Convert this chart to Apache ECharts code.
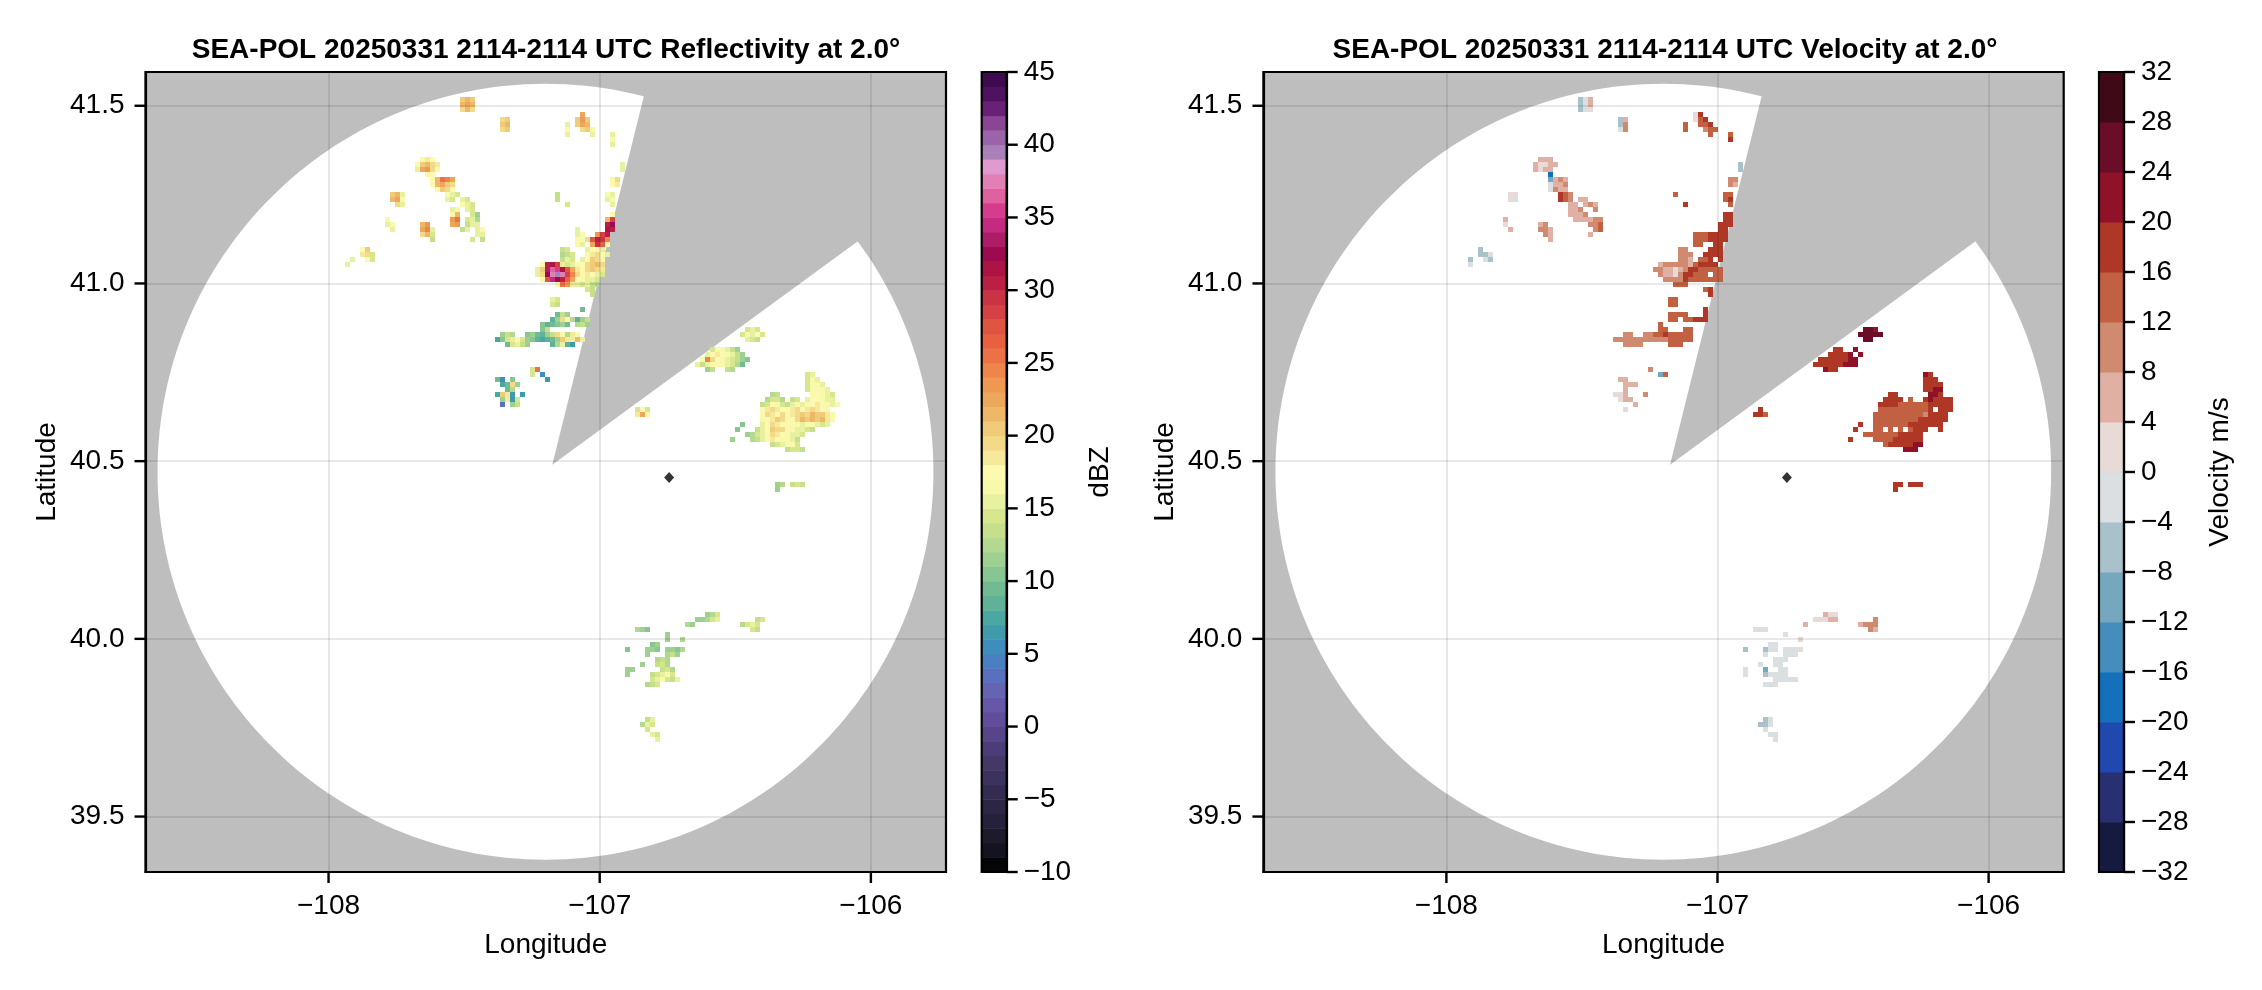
<!DOCTYPE html>
<html><head><meta charset="utf-8">
<style>html,body{margin:0;padding:0;background:#fff}#c{width:2262px;height:990px}</style>
<script src="https://cdn.jsdelivr.net/npm/echarts@6/dist/echarts.min.js"></script>
</head><body><div id="c"></div>
<script>
// ---------- axis ranges and ticks ----------
const lonRange = [-108.675, -105.723];
const latRange = [39.344, 41.595];
const lonTicks = [-108, -107, -106];
const latTicks = [39.5, 40.0, 40.5, 41.0, 41.5];
const dbzTicks = [-10,-5,0,5,10,15,20,25,30,35,40,45];
const velTicks = [-32,-28,-24,-20,-16,-12,-8,-4,0,4,8,12,16,20,24,28,32];
const titles = ['SEA-POL 20250331 2114-2114 UTC Reflectivity at 2.0°','SEA-POL 20250331 2114-2114 UTC Velocity at 2.0°'];
// ---------- radar geometry ----------
const radarMarker = [-106.744, 40.454];
const discCenter = [-107.2, 40.47];
const discRadius = [1.4307, 1.0917];
const blockedSector = [[-107.175,40.49],[-106.815,41.595],[-105.723,41.595],[-105.723,41.3]];
// ---------- colour scales, low to high ----------
const dbzColors = ['#050508','#141320','#1d1a2c','#25213a','#2c2644','#332b50','#3c325e','#453868','#4c3d78','#584488','#624c9c','#6757a8','#6564b3','#5870be','#4a7fc1','#3e8dbb','#3f9aac','#4ba8a0','#5fb198','#70bb91','#87c691','#9dd091','#b3d890','#c6df8a','#d7e78e','#e7f1a0','#f8f9ab','#fdfab0','#f6e99b','#f3da88','#f0cb7a','#eeb866','#eca75c','#ee9852','#ef854b','#ec7245','#e8603f','#e05442','#d54145','#c93344','#bb2044','#ae1345','#9e0a50','#ad1c66','#c62a80','#d63b8c','#e0619f','#e27fb5','#df9bcf','#aa80b8','#9b64a8','#8a4595','#6b2078','#4f1260','#3f0a50'];
const velColors = ['#171a40','#283072','#2049b0','#1570bc','#458dba','#75a8bf','#a9c1cb','#dadfe1','#e8dad6','#dfb0a3','#cf8a6f','#c16142','#ae3825','#8f1229','#6a0d28','#3f0a16'];
// ---------- sampled gate spacing ----------
const dLon = 5/271.2, dLat = 5/355.4;
// code tables: digits 0-4 = dBZ, a..z = 5..30, A..J = 31..40
const dbzCodes = '01234abcdefghijklmnopqrstuvwxyzABCDEFGHIJ';
// a..p = bins of 4 m/s from -30 to +30
const velCodes = 'abcdefghijklmnop';
// ---------- reflectivity readings: [row, col, codes] ----------
const reflectivityRuns = [
[5,63,'pqp'],[6,63,'qrq'],[7,63,'oqo'],
[9,71,'op'],[10,71,'pq'],[11,71,'op'],
[8,87,'r'],[9,86,'psp'],[10,86,'prq'],[11,87,'op'],
[10,84,'k'],[11,84,'l'],[12,84,'k'],[11,89,'l'],[12,89,'k'],
[12,93,'k'],[13,93,'l'],[14,93,'k'],[18,95,'k'],[19,95,'k'],
[21,93,'lo'],[22,93,'mn'],[24,92,'lk'],[25,92,'kl'],[26,93,'k'],
[24,82,'i'],[25,82,'i'],[26,84,'j'],
[17,55,'lnm'],[18,54,'lpqon'],[19,54,'krsol'],[20,56,'lm'],
[21,57,'mqutr'],[22,57,'mqrpo'],[23,58,'lpom'],[24,60,'lkj'],[25,60,'kj'],
[24,49,'pqk'],[25,49,'qrl'],[26,50,'ok'],
[29,48,'l'],[30,48,'kl'],[31,49,'k'],
[30,55,'qs'],[31,55,'rtk'],[32,55,'oqj'],[33,57,'i'],
[25,63,'kj'],[26,63,'lk'],[26,65,'j'],[27,61,'kl'],[27,64,'kj'],
[28,61,'lq'],[28,65,'jg'],[29,61,'su'],[29,64,'jkh'],[30,61,'rs'],[30,64,'ikk'],
[31,63,'ik'],[31,66,'kl'],[32,66,'kk'],[33,65,'j'],[33,67,'i'],
[35,43,'mp'],[36,43,'noj'],[37,44,'lj'],[37,41,'k'],[38,40,'k'],
[28,93,'m'],[29,92,'qx'],[30,92,'zB'],[31,92,'Az'],
[31,86,'k'],[32,86,'kl'],[32,90,'sxz'],[33,86,'lm'],[33,88,'owzyt'],[34,86,'lk'],[34,89,'ryvm'],
[35,83,'ij'],[35,88,'kmlk'],[36,83,'hij'],[36,88,'lnomk'],[37,83,'ikj'],[37,87,'kmpol'],
[38,79,'mzAxnjklmopqo'],[39,78,'kpCFEAwrnmopon'],[40,78,'koBGIGxtolnmkj'],
[41,79,'lwDBzvrmlkkj'],[42,82,'musnkjkih'],
[43,88,'ji'],[44,89,'i'],[45,81,'kj'],[46,81,'ji'],
[47,87,'e'],[48,82,'eig'],[49,81,'dgolhd'],[49,87,'gi'],[50,79,'f'],[50,80,'de'],[50,82,'fge'],[50,86,'hig'],
[51,79,'fi'],[52,71,'gih'],[52,76,'fgedg'],[52,81,'iolhnl'],
[53,70,'cfjnljgfdcde'],[53,82,'gpnkqk'],[54,72,'ejkig'],[54,81,'dhkdb'],
[59,77,'j'],[59,78,'u'],[60,77,'j'],[60,79,'a'],[61,80,'b'],
[61,70,'ea'],[61,73,'f'],[62,71,'ceog'],[63,72,'eh'],[64,70,'cpnb'],[64,75,'b'],[65,71,'gkbj'],[66,73,'gi'],[66,71,'3'],
[67,98,'jlj'],[68,98,'nrl'],
[51,120,'jkj'],[52,119,'jlkmj'],[53,120,'kji'],
[55,113,'jllkig'],[56,112,'kmnmlkig'],[57,111,'ltomlkjigf'],[58,110,'kiklmlkjhe'],[59,112,'gi'],[59,116,'ih'],
[60,132,'jk'],[61,132,'jlk'],[62,132,'jllk'],[63,132,'jlmlk'],
[64,125,'hi'],[64,133,'lmlkj'],[65,124,'hjjh'],[65,129,'ij'],[65,132,'kmmlkk'],
[66,123,'ijmlj'],[66,128,'iklk'],[66,132,'lmnmlkl'],
[67,123,'lnonmlnomnonml'],[68,123,'monmolnopoqppnl'],[69,123,'lmnpolmoqpqpqnl'],[70,123,'kmonmlmlklmkjk'],
[71,122,'ikmpoomlkkji'],[72,120,'ghjklonmlkkj'],[73,121,'hikmnmllki'],[74,125,'ijkllj'],[75,128,'ijji'],
[70,119,'f'],[71,118,'f'],[73,117,'g'],
[82,126,'gh'],[83,126,'g'],[82,129,'iji'],
[111,98,'hgf'],[110,108,'hg'],[108,112,'ghj'],[109,110,'gghjk'],
[109,122,'ij'],[110,119,'hjkj'],[111,121,'ji'],
[112,104,'g'],[113,104,'g'],[113,107,'h'],
[114,101,'fg'],[115,100,'ggf'],[116,100,'g'],[115,104,'ggfh'],[116,104,'hig'],[117,104,'h'],
[117,102,'hi'],[118,102,'ijh'],[115,96,'f'],[118,99,'g'],
[119,103,'ijh'],[120,101,'ijklj'],[121,101,'jkljik'],[119,96,'gg'],[120,96,'g'],[122,100,'hij'],
[129,100,'ik'],[130,99,'hkj'],[131,100,'j'],[132,101,'kj'],[133,102,'k']
];
// ---------- velocity readings: [row, col, codes] ----------
const velocityRuns = [
[5,63,'ghj'],[6,63,'ghj'],[7,63,'ghi'],
[9,71,'gj'],[10,71,'gk'],[11,71,'hk'],
[8,86,'im'],[9,86,'ilm'],[10,87,'llm'],[11,88,'kll'],[12,89,'l'],
[10,84,'l'],[11,84,'l'],[12,93,'l'],[13,93,'m'],[18,95,'g'],[19,95,'g'],
[21,93,'kk'],[22,93,'kj'],[24,92,'ll'],[25,92,'lm'],[26,93,'l'],[24,82,'l'],[26,84,'m'],
[17,55,'jjj'],[18,54,'jiijj'],[19,54,'jijj'],[20,57,'d'],[21,57,'f'],[22,57,'h'],[23,57,'h'],
[21,58,'jkj'],[22,58,'jjk'],[23,58,'kjj'],[24,59,'mlk'],[25,59,'mlk'],
[25,63,'jj'],[26,64,'jkj'],[27,66,'k'],[26,61,'jj'],[27,61,'jjk'],[28,61,'jjjk'],[29,62,'jjjj'],
[29,66,'kk'],[30,65,'kkl'],[31,66,'kl'],[32,65,'j'],
[24,49,'ii'],[25,49,'ih'],[29,48,'j'],[30,48,'i'],[31,49,'j'],
[30,55,'jk'],[31,55,'kkj'],[32,56,'kj'],[33,57,'j'],
[35,43,'g'],[36,43,'ggh'],[37,44,'hg'],[37,41,'g'],[38,41,'h'],
[28,92,'mm'],[29,92,'mm'],[30,91,'mmm'],[31,91,'mm'],[32,86,'lllmmmm'],[33,86,'lllmmmm'],[34,86,'ll'],[34,90,'mm'],
[35,83,'kk'],[35,89,'mmm'],[36,83,'kkk'],[36,88,'mmmm'],[37,83,'kkj'],[37,87,'llm'],[37,91,'m'],
[38,79,'jkkkkkjlmmmm'],[39,78,'kkjjijkmmlllll'],[40,79,'kjjikmmlll'],[40,90,'ll'],[41,80,'kkkkmlllllll'],[42,82,'lll'],
[43,88,'lm'],[44,89,'m'],[45,81,'ll'],[46,81,'ll'],[47,88,'m'],
[48,81,'llll'],[48,88,'m'],[49,81,'ll'],[49,84,'ll'],[49,86,'mmm'],
[50,79,'l'],[51,79,'ll'],[51,84,'ll'],[52,72,'kk'],[52,76,'kkllm'],[52,81,'lllll'],
[53,70,'kkkkkkkkkkk'],[53,81,'lllll'],[54,72,'kkkk'],[54,81,'lll'],
[59,77,'k'],[60,79,'f'],[60,80,'l'],
[61,71,'jj'],[62,72,'jjj'],[63,72,'j'],[64,70,'iij'],[64,76,'k'],[65,71,'ijj'],[66,74,'j'],[67,72,'i'],
[67,99,'m'],[68,98,'mml'],
[51,120,'oon'],[52,119,'ooooo'],[53,120,'oo'],
[55,114,'mm'],[55,118,'n'],[56,113,'mmmmn'],[56,119,'n'],[57,111,'mmmmmmnn'],[58,110,'mmmmmmnnn'],[59,112,'nm'],[59,114,'m'],
[60,132,'nm'],[61,132,'mmm'],[62,132,'mmmm'],[63,132,'mmnn'],
[64,125,'mm'],[64,133,'nnm'],[65,124,'mmmm'],[65,129,'l'],[65,132,'mnmmmm'],
[66,123,'mmmmllllllmmmmm'],[67,123,'llllllllllm.mmm'],[68,122,'llllllllllkmmmm'],
[69,122,'lllllllllmmmmmm'],[70,122,'lllllllmmmmmmm'],
[71,122,'ll.l.l.lmmm'],[71,135,'m'],
[72,120,'lllllllmmmmm'],[73,122,'llllmmmmmm'],[74,124,'lmmmmmnn'],[75,128,'nnn'],
[70,119,'m'],[71,118,'m'],[73,117,'m'],
[82,126,'mm'],[83,126,'m'],[82,129,'mmm'],
[111,98,'hhi'],[110,108,'j'],[108,112,'jii'],[109,110,'iiijj'],
[109,122,'k'],[110,119,'jkkk'],[111,121,'kj'],
[112,104,'h'],[113,107,'i'],[114,101,'hh'],[115,100,'ghh'],[116,100,'h'],
[115,104,'hhh'],[116,104,'hhh'],[115,107,'i'],[117,102,'hhh'],[118,102,'hh'],
[115,96,'g'],[118,99,'h'],[119,100,'f'],[119,103,'hh'],[120,100,'ghhhh'],[121,102,'hhhhh'],
[119,96,'h'],[120,96,'h'],[122,100,'hhi'],
[129,100,'gh'],[130,99,'ggh'],[131,100,'h'],[132,101,'hh'],[133,102,'h']
];

function expand(runs, codes){
  const out=[];
  runs.forEach(([row,col,s])=>{
    for(let i=0;i<s.length;i++){
      const idx=codes.indexOf(s[i]);
      if(idx<0) continue;
      out.push([lonRange[0]+(col+i+0.5)*dLon, latRange[1]-(row+0.5)*dLat, idx]);
    }
  });
  return out;
}
const reflCells = expand(reflectivityRuns, dbzCodes).map(c=>[c[0],c[1],c[2]]);
const velCells = expand(velocityRuns, velCodes).map(c=>[c[0],c[1],c[2]*4-30]);
function dbzColor(v){ return dbzColors[Math.max(0,Math.min(dbzColors.length-1,Math.floor(v+10)))]; }
function velColor(v){ return velColors[Math.max(0,Math.min(velColors.length-1,Math.floor((v+32)/4)))]; }

function cellSeries(cells,colorOf,g,name){
  return {type:'custom',name,xAxisIndex:g,yAxisIndex:g,z:3,silent:true,clip:true,data:cells,
    renderItem(p,api){
      const c=api.coord([api.value(0),api.value(1)]);
      const s=api.size([dLon,dLat]);
      return {type:'rect',shape:{x:Math.round(c[0]-s[0]/2),y:Math.round(c[1]-s[1]/2),width:Math.ceil(s[0]),height:Math.ceil(s[1])},style:{fill:colorOf(api.value(2))}};
    }};
}
function bgSeries(g){
  return {type:'custom',xAxisIndex:g,yAxisIndex:g,z:1,silent:true,clip:true,data:[[discCenter[0],discCenter[1]]],
    renderItem(p,api){
      const tl=api.coord([lonRange[0],latRange[1]]), br=api.coord([lonRange[1],latRange[0]]);
      const c=api.coord(discCenter), r=api.size(discRadius);
      return {type:'group',children:[
        {type:'rect',shape:{x:tl[0],y:tl[1],width:br[0]-tl[0],height:br[1]-tl[1]},style:{fill:'#bebebe'}},
        {type:'ellipse',shape:{cx:c[0],cy:c[1],rx:r[0],ry:r[1]},style:{fill:'#fff'}},
        {type:'polygon',shape:{points:blockedSector.map(q=>api.coord(q))},style:{fill:'#bebebe'}}
      ]};
    }};
}
function barSeries(g,colors,ticksMin,step){
  return {type:'custom',xAxisIndex:g,yAxisIndex:g,z:1,silent:true,
    data:colors.map((col,i)=>[i]),
    renderItem(p,api){
      const i=api.value(0);
      const a=api.coord([0,ticksMin+i*step]), b=api.coord([1,ticksMin+(i+1)*step]);
      return {type:'rect',shape:{x:a[0],y:b[1],width:b[0]-a[0],height:a[1]-b[1]+0.5},style:{fill:colors[i]}};
    }};
}
// outward tick marks placed through the axes' own scales
function tickSeries(g,values,place,dx,dy){
  return {type:'custom',xAxisIndex:g,yAxisIndex:g,z:11,silent:true,clip:false,data:values.map(v=>[v]),
    renderItem(p,api){
      const q=api.coord(place(api.value(0)));
      return {type:'line',shape:{x1:q[0],y1:q[1],x2:q[0]+dx,y2:q[1]+dy},style:{stroke:'#000',lineWidth:2.4}};
    }};
}
const FONT='"Liberation Sans", Arial, sans-serif';
const FS=28;
const minus=v=>String(v).replace('-','\u2212');
const mainGrids=[{left:145.5,top:72,width:800.5,height:800},{left:1263.4,top:72,width:800.3,height:800}];
const barGrids=[{left:981.7,top:72,width:25,height:800},{left:2099,top:72,width:25,height:800}];
const grids=[...mainGrids,...barGrids].map(g=>({...g,show:true,backgroundColor:'transparent',borderColor:'#000',borderWidth:2.2,z:12}));
const xAxes=[],yAxes=[];
const line={show:true,onZero:false,lineStyle:{color:'#000',width:2.2}};
[0,1].forEach(i=>{
  xAxes.push({type:'value',gridIndex:i,min:lonRange[0],max:lonRange[1],z:10,position:'bottom',
    name:'Longitude',nameLocation:'middle',nameGap:59,nameTextStyle:{fontFamily:FONT,fontSize:FS,color:'#000'},
    axisLine:line,
    axisTick:{show:false,customValues:lonTicks},
    axisLabel:{show:true,customValues:lonTicks,margin:20,fontFamily:FONT,fontSize:FS,color:'#000',formatter:v=>minus(Math.round(v))},
    splitLine:{show:true,lineStyle:{color:'rgba(0,0,0,0.12)',width:1.6}}});
  yAxes.push({type:'value',gridIndex:i,min:latRange[0],max:latRange[1],z:10,position:'left',
    name:'Latitude',nameLocation:'middle',nameGap:84,nameRotate:90,nameTextStyle:{fontFamily:FONT,fontSize:FS,color:'#000'},
    axisLine:line,
    axisTick:{show:false,customValues:latTicks},
    axisLabel:{show:true,customValues:latTicks,margin:21,padding:[3,0,0,0],fontFamily:FONT,fontSize:FS,color:'#000',formatter:v=>v.toFixed(1)},
    splitLine:{show:true,lineStyle:{color:'rgba(0,0,0,0.12)',width:1.6}}});
});
[[2,dbzTicks,'dBZ',80],[3,velTicks,'Velocity m/s',82]].forEach(([i,t,n,gap])=>{
  xAxes.push({type:'value',gridIndex:i,min:0,max:1,show:false});
  yAxes.push({type:'value',gridIndex:i,position:'right',min:t[0],max:t[t.length-1],interval:t[1]-t[0],z:10,
    name:n,nameLocation:'middle',nameGap:gap,nameRotate:90,nameTextStyle:{fontFamily:FONT,fontSize:FS,color:'#000'},
    axisLine:line,
    axisTick:{show:false},
    axisLabel:{show:true,margin:17,padding:[3,0,0,0],fontFamily:FONT,fontSize:FS,color:'#000',formatter:minus},
    splitLine:{show:false}});
});
const markers=[0,1].map(g=>({type:'scatter',xAxisIndex:g,yAxisIndex:g,z:5,silent:true,symbol:'diamond',symbolSize:[10,11],itemStyle:{color:'#000'},data:[radarMarker]}));
const tickMarks=[
  ...[0,1].flatMap(g=>[
    tickSeries(g,lonTicks,v=>[v,latRange[0]],0,11),
    tickSeries(g,latTicks,v=>[lonRange[0],v],-11,0)]),
  tickSeries(2,dbzTicks,v=>[1,v],11,0),
  tickSeries(3,velTicks,v=>[1,v],11,0)
];
const chart=echarts.init(document.getElementById('c'),null,{renderer:'canvas'});
chart.setOption({
  animation:false,backgroundColor:'#fff',
  title:titles.map((t,i)=>({text:t,left:[541,1660][i],top:31,textAlign:'center',textStyle:{fontFamily:FONT,fontSize:28,fontWeight:'bold',color:'#000',lineHeight:28}})),
  grid:grids,xAxis:xAxes,yAxis:yAxes,
  series:[bgSeries(0),bgSeries(1),
    cellSeries(reflCells,dbzColor,0,'Reflectivity'),cellSeries(velCells,velColor,1,'Velocity'),
    ...markers,
    barSeries(2,dbzColors,-10,1),barSeries(3,velColors,-32,4),
    ...tickMarks]
});
</script></body></html>
